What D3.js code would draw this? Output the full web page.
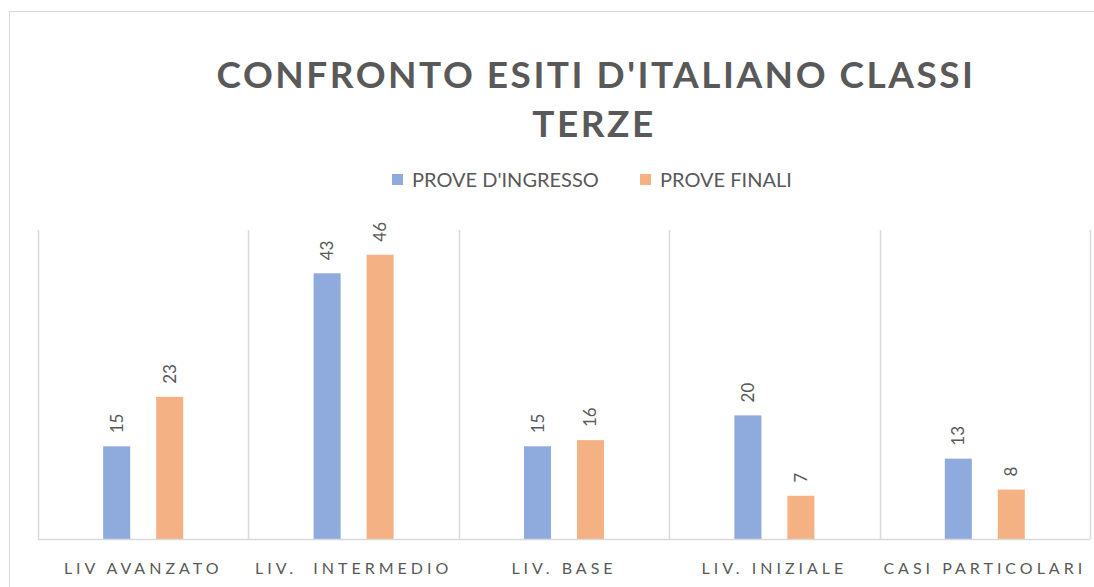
<!DOCTYPE html>
<html>
<head>
<meta charset="utf-8">
<script src="https://cdn.jsdelivr.net/npm/d3@7"></script>
<style>
  body { margin: 0; background: #fff; }
  text { font-family: Lato, "Open Sans", sans-serif; fill: #595959; }
</style>
</head>
<body>
<div id="chart"></div>
<script>
const categories = ['LIV AVANZATO', 'LIV.  INTERMEDIO', 'LIV. BASE', 'LIV. INIZIALE', 'CASI PARTICOLARI'];
const seriesNames = ["PROVE D'INGRESSO", 'PROVE FINALI'];
const ingresso = [15, 43, 15, 20, 13];
const finali = [23, 46, 16, 7, 8];
const colors = ['#8faadc', '#f4b183'];

const width = 1094, height = 587;
let margin = { left: 38, right: 4, top: 230, bottom: 48 };

const svg = d3.select('#chart').append('svg')
    .attr('width', width)
    .attr('height', height);

// chart frame
svg.append('rect')
    .attr('x', 9.5).attr('y', 11.5)
    .attr('width', width).attr('height', height)
    .attr('fill', 'none')
    .attr('stroke', '#d9d9d9');

// title
const title = svg.append('text')
    .attr('text-anchor', 'middle')
    .style('font-weight', 'bold')
    .style('font-size', '37px')
    .style('letter-spacing', '2.5px');
title.append('tspan').attr('x', 596).attr('y', 88).text("CONFRONTO ESITI D'ITALIANO CLASSI");
title.append('tspan').attr('x', 594).attr('y', 137).text('TERZE');

// legend
const legendX = [392, 640];
const legend = svg.selectAll('.legend')
    .data(seriesNames)
    .enter().append('g')
    .attr('class', 'legend')
    .attr('transform', (d, i) => 'translate(' + legendX[i] + ',174)');
legend.append('rect')
    .attr('width', 11).attr('height', 11)
    .attr('fill', (d, i) => colors[i]);
legend.append('text')
    .attr('x', 20).attr('y', 13)
    .style('font-size', '20px')
    .text(d => d);

const x = d3.scaleBand()
    .domain(categories)
    .range([margin.left, width - margin.right]);
const x1 = d3.scaleBand()
    .domain([0, 1])
    .range([0, x.bandwidth()])
    .paddingInner(0.49)
    .paddingOuter(1.23);
const y = d3.scaleLinear()
    .domain([0, 50])
    .range([height - margin.bottom, margin.top]);

// vertical gridlines between categories
const bounds = categories.map(c => x(c)).concat([width - margin.right]);
svg.selectAll('.grid')
    .data(bounds)
    .enter().append('line')
    .attr('class', 'grid')
    .attr('x1', d => Math.round(d) + 0.5)
    .attr('x2', d => Math.round(d) + 0.5)
    .attr('y1', y(50))
    .attr('y2', y(0))
    .attr('stroke', '#d9d9d9')
    .attr('stroke-width', 1.5);

const groups = svg.selectAll('.cat')
    .data(categories)
    .enter().append('g')
    .attr('class', 'cat')
    .attr('transform', d => 'translate(' + x(d) + ',0)');

const bars = groups.selectAll('.bar')
    .data((d, i) => [ingresso[i], finali[i]].map((v, s) => ({ v: v, s: s })))
    .enter();

bars.append('rect')
    .attr('class', 'bar')
    .attr('x', d => x1(d.s))
    .attr('width', x1.bandwidth())
    .attr('y', d => y(d.v))
    .attr('height', d => y(0) - y(d.v))
    .attr('fill', d => colors[d.s]);

bars.append('text')
    .attr('transform', d => 'translate(' + (x1(d.s) + x1.bandwidth() / 2 + 6) + ',' + (y(d.v) - 13) + ') rotate(-90)')
    .style('font-size', '17px')
    .text(d => d.v);

// baseline
svg.append('line')
    .attr('x1', margin.left).attr('x2', width - margin.right)
    .attr('y1', y(0) + 0.5).attr('y2', y(0) + 0.5)
    .attr('stroke', '#d9d9d9')
    .attr('stroke-width', 1.5);

// category labels
svg.selectAll('.cat-label')
    .data(categories)
    .enter().append('text')
    .attr('class', 'cat-label')
    .attr('x', d => x(d) + x.bandwidth() / 2)
    .attr('y', 574)
    .attr('text-anchor', 'middle')
    .style('font-size', '16px')
    .style('letter-spacing', '4px')
    .style('white-space', 'pre')
    .text(d => d);
</script>
</body>
</html>
